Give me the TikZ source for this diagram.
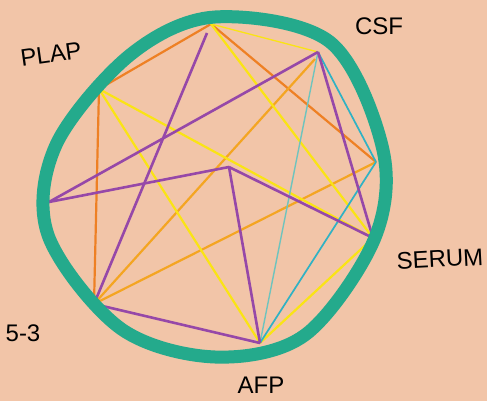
\documentclass[tikz,border=0pt]{standalone}
\usepackage{fontspec}
\setmainfont{Liberation Sans}
\definecolor{peach}{RGB}{242,197,168}
\definecolor{ringteal}{RGB}{36,170,140}
\definecolor{lnorange}{RGB}{238,128,36}
\definecolor{lnamber}{RGB}{244,165,34}
\definecolor{lnyellow}{RGB}{250,228,20}
\definecolor{lnpurple}{RGB}{150,72,168}
\definecolor{lncyan}{RGB}{48,178,196}
\definecolor{lnpale}{RGB}{110,196,190}

\begin{document}
\begin{tikzpicture}[
  x=1pt,y=-1pt,
  font=\fontsize{24}{26}\selectfont,
  ring/.style={line width=13pt,draw=ringteal,line join=round},
  lo/.style={line width=2.2pt,lnorange},
  la/.style={line width=2.2pt,lnamber},
  ly/.style={line width=2.2pt,lnyellow},
  lp/.style={line width=2.6pt,lnpurple},
  lc/.style={line width=1.7pt,lncyan},
  lcp/.style={line width=1.4pt,lnpale},
  lbl/.style={text=black,inner sep=0pt}
]

% background and frame
\fill[peach] (0,0) rectangle (487,401);
\useasboundingbox (0,0) rectangle (487,401);

%%%%%%%%%%%%%%%%%%%%%%%%%%%%%%%%%%%%%%%%%%%%%%%%%%%%
% vertices
%%%%%%%%%%%%%%%%%%%%%%%%%%%%%%%%%%%%%%%%%%%%%%%%%%%%
\coordinate (top)   at (211,24);
\coordinate (topb)  at (207,33);
\coordinate (csf)   at (318,52);
\coordinate (csfb)  at (315,59);
\coordinate (plap)  at (99,89);
\coordinate (rgt)   at (376,162);
\coordinate (lft)   at (49,202);
\coordinate (mid)   at (229,167);
\coordinate (serum) at (373,238);
\coordinate (sthree) at (94,304);
\coordinate (afp)   at (260,343);

%%%%%%%%%%%%%%%%%%%%%%%%%%%%%%%%%%%%%%%%%%%%%%%%%%%%
% connectors
%%%%%%%%%%%%%%%%%%%%%%%%%%%%%%%%%%%%%%%%%%%%%%%%%%%%
\draw[lo] (top)--(plap);
\draw[lo] (top)--(rgt);
\draw[lo] (plap)--(sthree);
\draw[la] (csfb)--(sthree);
\draw[la] (rgt)--(sthree);

\draw[ly,line width=1.3pt] (top)--(csf);
\draw[ly] (top)--(serum);
\draw[ly] (plap)--(serum);
\draw[ly] (plap)--(afp);
\draw[ly] (serum)--(afp);

\draw[lcp] (csf)--(afp);
\draw[lc] (csf)--(rgt);
\draw[lc] (rgt)--(afp);

\draw[lp] (topb)--(sthree);
\draw[lp] (csf)--(lft);
\draw[lp] (csf)--(serum);
\draw[lp] (lft)--(mid);
\draw[lp] (mid)--(serum);
\draw[lp] (mid)--(afp);
\draw[lp] (sthree)--(afp);

%%%%%%%%%%%%%%%%%%%%%%%%%%%%%%%%%%%%%%%%%%%%%%%%%%%%
% ring
%%%%%%%%%%%%%%%%%%%%%%%%%%%%%%%%%%%%%%%%%%%%%%%%%%%%
\draw[ring] plot[smooth cycle,tension=0.55] coordinates {
  (215,17) (330,42) (383,150) (374,240)
  (305,335) (215,357) (120,328)
  (48,235) (56,145) (130,55)};

%%%%%%%%%%%%%%%%%%%%%%%%%%%%%%%%%%%%%%%%%%%%%%%%%%%%
% labels
%%%%%%%%%%%%%%%%%%%%%%%%%%%%%%%%%%%%%%%%%%%%%%%%%%%%
\node[lbl,rotate=8] (plaplbl) at (51,54) {PLAP};
\node[lbl] (csflbl) at (379,26) {CSF};
\node[lbl,rotate=3] (serumlbl) at (440,259) {SERUM};
\node[lbl] (afplbl) at (261,385) {AFP};
\node[lbl] (sthreelbl) at (23,333) {5-3};

\end{tikzpicture}
\end{document}
